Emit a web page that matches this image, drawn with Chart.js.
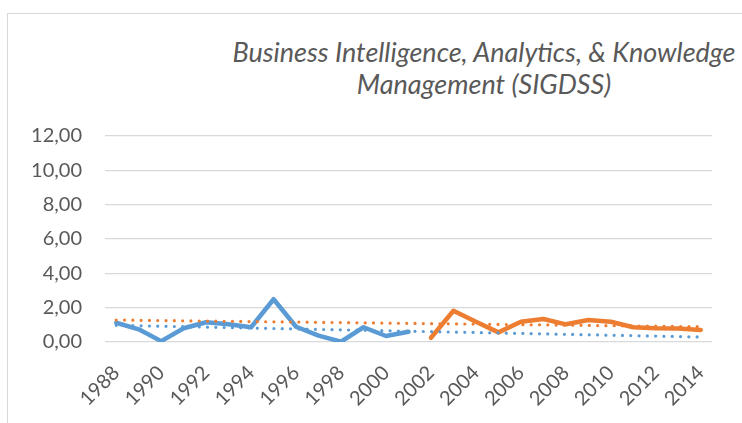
<!DOCTYPE html>
<html>
<head>
<meta charset="utf-8">
<script src="https://cdn.jsdelivr.net/npm/chart.js@4"></script>
<style>
  html, body { margin: 0; padding: 0; background: #fff; overflow: hidden; }
  body { width: 742px; height: 423px; position: relative; }
  .frame { position: absolute; left: 7px; top: 13px; width: 900px; height: 600px; border: 1px solid #d9d9d9; }
  .title { position: absolute; left: 84px; top: 36px; width: 800px; text-align: center;
           font-family: Lato, "Open Sans", sans-serif; font-style: italic; font-size: 27px;
           line-height: 32px; color: #595959; white-space: nowrap; }
  .wrap { position: absolute; left: 0; top: 0; width: 742px; height: 423px; }
</style>
</head>
<body>
<div class="frame"></div>
<div class="title">Business Intelligence, Analytics, &amp; Knowledge<br>Management (SIGDSS)</div>
<div class="wrap"><canvas id="chart"></canvas></div>
<script>
// years on the category axis
const years = ['1988','1989','1990','1991','1992','1993','1994','1995','1996','1997','1998','1999','2000','2001',
  '2002','2003','2004','2005','2006','2007','2008','2009','2010','2011','2012','2013','2014'];
// first period 1988-2001
const blueValues = [1.12, 0.74, 0.05, 0.80, 1.15, 1.03, 0.86, 2.49, 0.89, 0.37, 0.02, 0.86, 0.35, 0.60];
// second period 2002-2014
const orangeValues = [0.25, 1.82, 1.18, 0.56, 1.18, 1.34, 1.03, 1.28, 1.18, 0.86, 0.80, 0.78, 0.70];
// linear trend lines, value at 1988 and at 2014
const blueTrend = [0.97, 0.29];
const orangeTrend = [1.28, 0.89];
const yTicks = [0, 2, 4, 6, 8, 10, 12];

const blue = '#5B9BD5', orange = '#ED7D31', textGray = '#595959';

const blueData = years.map((y, i) => i < blueValues.length ? blueValues[i] : null);
const orangeData = years.map((y, i) => {
  const k = i - (years.length - orangeValues.length);
  return k >= 0 ? orangeValues[k] : null;
});
const trendData = t => years.map((y, i) => i === 0 ? t[0] : (i === years.length - 1 ? t[1] : null));

const lineStyle = c => ({ borderColor: c, backgroundColor: c, borderWidth: 4.5, pointRadius: 0,
  borderJoinStyle: 'round', borderCapStyle: 'round', tension: 0, fill: false, order: 2 });
const trendStyle = c => ({ borderColor: c, backgroundColor: c, borderWidth: 3.2, pointRadius: 0,
  borderDash: [0, 8.3], borderCapStyle: 'round', spanGaps: true, tension: 0, fill: false, order: 1 });

new Chart(document.getElementById('chart'), {
  type: 'line',
  data: {
    labels: years,
    datasets: [
      Object.assign({ label: 'Series 1', data: blueData }, lineStyle(blue)),
      Object.assign({ label: 'Series 2', data: orangeData }, lineStyle(orange)),
      Object.assign({ label: 'Trend 1', data: trendData(blueTrend) }, trendStyle(blue)),
      Object.assign({ label: 'Trend 2', data: trendData(orangeTrend) }, trendStyle(orange))
    ]
  },
  options: {
    responsive: true,
    maintainAspectRatio: false,
    animation: false,
    layout: { padding: { left: 10, right: 30, top: 136, bottom: 0 } },
    plugins: { legend: { display: false }, title: { display: false }, tooltip: { enabled: false } },
    scales: {
      x: {
        offset: true,
        grid: { display: false },
        border: { display: false },
        ticks: {
          autoSkip: false, maxRotation: 45, minRotation: 45, padding: 11,
          color: textGray, font: { family: 'Lato', size: 20 },
          callback: (v, i) => i % 2 === 0 ? years[i] : ''
        },
        afterFit: s => { s.height = 81; }
      },
      y: {
        min: 0, max: 12,
        afterBuildTicks: s => { s.ticks = yTicks.map(v => ({ value: v })); },
        grid: { color: '#d9d9d9', lineWidth: 1.3, drawTicks: false },
        border: { display: false },
        ticks: {
          padding: 23, color: textGray, font: { family: 'Lato', size: 20 },
          callback: v => v.toFixed(2).replace('.', ',')
        },
        afterFit: s => { s.width = 95; }
      }
    }
  }
});
</script>
</body>
</html>
